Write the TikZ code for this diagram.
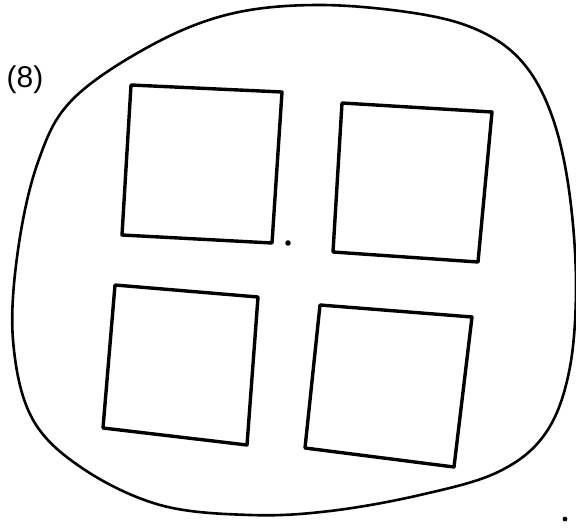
\documentclass[tikz,border=0pt]{standalone}
\usepackage{fontspec}
\setmainfont{Liberation Sans}
\begin{document}
\begin{tikzpicture}[x=1pt,y=-1pt,
  ink/.style={draw=black,line width=3.4pt,line cap=round,line join=round},
  blobline/.style={draw=black,line width=2.6pt,line cap=round}]
\useasboundingbox[fill=white] (0,0) rectangle (576,530);
% outer blob
\draw[blobline] plot[smooth cycle,tension=0.6] coordinates {
 (72,100) (150,46) (230,14) (320,5) (420,14) (482,32) (524,64) (552,116)
 (569,190) (576,285) (569,372) (545,434) (498,472) (420,495) (330,511)
 (250,515) (160,505) (82,468) (32,418) (13,340) (18,250) (38,162)};
% squares
\draw[ink] (131,85) -- (282,92) -- (272,243) -- (122,235) -- cycle;
\draw[ink] (342,103) -- (492,112) -- (478,262) -- (333,252) -- cycle;
\draw[ink] (115,285) -- (258,297) -- (247,445) -- (103,428) -- cycle;
\draw[ink] (320,305) -- (472,317) -- (454,467) -- (305,448) -- cycle;
% dots
\fill (288,243) circle (2.8);
\fill (565,519) circle (2.4);
% label
\node[font=\fontsize{30}{34}\selectfont,anchor=center] (lbl) at (25,80) {(8)};
\end{tikzpicture}
\end{document}
